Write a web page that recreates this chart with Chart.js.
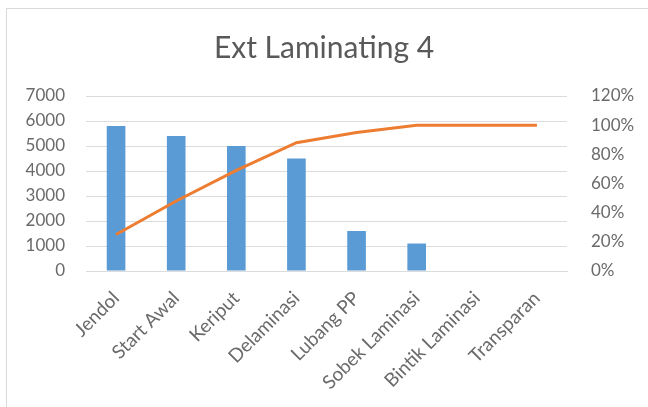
<!DOCTYPE html>
<html>
<head>
<meta charset="utf-8">
<script src="https://cdn.jsdelivr.net/npm/chart.js@4"></script>
<style>
  body { margin: 0; background: #fff; }
  #frame { position: absolute; left: 6px; top: 8px; width: 700px; height: 500px; border: 1px solid #d9d9d9; }
  #wrap { position: absolute; left: 0; top: 0; width: 648px; height: 407px; }
</style>
</head>
<body>
<div id="frame"></div>
<div id="wrap"><canvas id="chart"></canvas></div>
<script>
// categories and values
const categories = ['Jendol', 'Start Awal', 'Keriput', 'Delaminasi', 'Lubang PP', 'Sobek Laminasi', 'Bintik Laminasi', 'Transparan'];
const counts = [5800, 5400, 5000, 4500, 1600, 1100, 0, 0];
const cumulativePct = [25, 48, 69, 88, 95, 100, 100, 100];

const textColor = '#6a6a6a';
const gridColor = '#dcdcdc';
const tickFont = { family: 'Lato', size: 17 };

new Chart(document.getElementById('chart'), {
    data: {
        labels: categories,
        datasets: [
            {
                type: 'line',
                data: cumulativePct,
                yAxisID: 'yPct',
                borderColor: '#ED7D31',
                borderWidth: 3,
                pointRadius: 0,
                tension: 0,
                order: 0
            },
            {
                type: 'bar',
                data: counts,
                yAxisID: 'y',
                backgroundColor: '#5B9BD5',
                barPercentage: 0.31,
                categoryPercentage: 1,
                order: 1
            }
        ]
    },
    options: {
        responsive: true,
        maintainAspectRatio: false,
        animation: false,
        layout: { padding: 0 },
        plugins: {
            legend: { display: false },
            tooltip: { enabled: false },
            title: {
                display: true,
                text: 'Ext Laminating 4',
                color: '#595959',
                font: { family: 'Lato', size: 30, weight: 'normal' },
                padding: { top: 30, bottom: 30 }
            }
        },
        scales: {
            x: {
                grid: { display: false },
                border: { color: gridColor },
                ticks: { color: textColor, font: { family: 'Lato', size: 19 }, minRotation: 45, maxRotation: 45, padding: 8 },
                afterFit: (scale) => { scale.height = 136; }
            },
            y: {
                position: 'left',
                min: 0, max: 7000,
                grid: { color: gridColor, lineWidth: 1, drawTicks: false },
                border: { display: false },
                ticks: { stepSize: 1000, color: textColor, font: tickFont, padding: 21, callback: (v) => String(v) },
                afterFit: (scale) => { scale.width = 86; }
            },
            yPct: {
                position: 'right',
                min: 0, max: 120,
                grid: { display: false },
                border: { display: false },
                ticks: { stepSize: 20, color: textColor, font: tickFont, padding: 16, callback: (v) => v + '%' },
                afterFit: (scale) => { scale.width = 81; }
            }
        }
    }
});
</script>
</body>
</html>
